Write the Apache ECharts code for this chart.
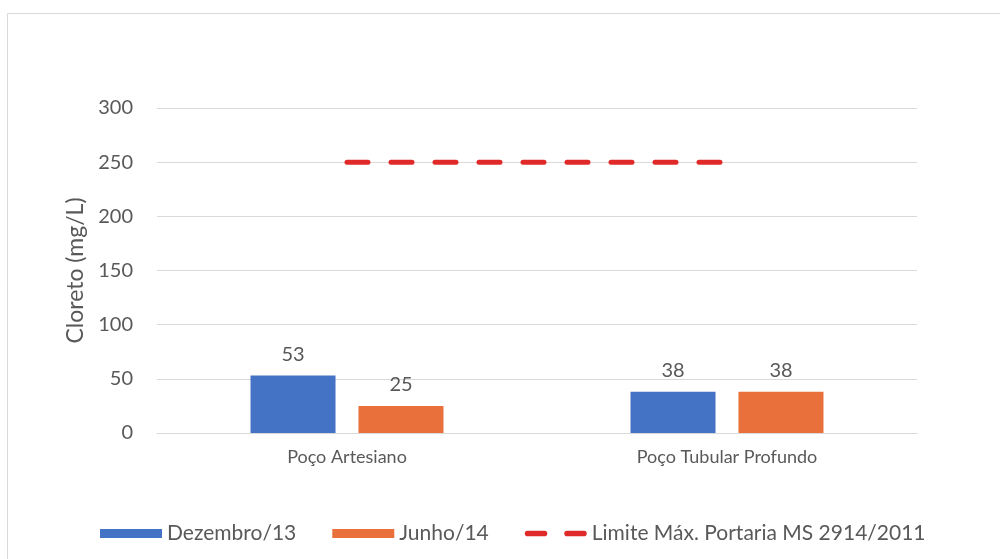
<!DOCTYPE html>
<html>
<head>
<meta charset="utf-8">
<script src="https://cdn.jsdelivr.net/npm/echarts@6/dist/echarts.min.js"></script>
<style>
  html, body { margin: 0; padding: 0; background: #fff; }
  #chart { width: 1000px; height: 559px; }
</style>
</head>
<body>
<div id="chart"></div>
<script>
// dados do gráfico
const categorias = ["Poço Artesiano", "Poço Tubular Profundo"];
const dezembro13 = [53, 38];
const junho14 = [25, 38];
const limiteMax = [250, 250];
const yTicks = { min: 0, max: 300, interval: 50 };

const chart = echarts.init(document.getElementById("chart"));
const fonte = "Lato, 'Open Sans', sans-serif";
const cinza = "#595959";

// ícone da legenda: dois traços (com pontos quase invisíveis para manter a altura)
const iconeTracejado = "path://M0,0h0.01v0.01h-0.01z M0,9h0.01v0.01h-0.01z " +
  "M3,1.5h18a3,3 0 0 1 0,6h-18a3,3 0 0 1 0,-6z M45,1.5h18a3,3 0 0 1 0,6h-18a3,3 0 0 1 0,-6z M66,0h0.01v0.01h-0.01z";

chart.setOption({
  animation: false,
  backgroundColor: "#fff",
  textStyle: { fontFamily: fonte },
  graphic: [{
    type: "rect",
    shape: { x: 7.5, y: 13.5, width: 1000, height: 600 },
    style: { fill: "none", stroke: "#d9d9d9", lineWidth: 1 },
    silent: true
  }],
  grid: { left: 157, right: 83, top: 108, bottom: 126 },
  legend: {
    left: 95,
    top: 518,
    itemWidth: 62,
    itemHeight: 9,
    itemGap: 36,
    textStyle: { color: cinza, fontSize: 21, fontFamily: fonte },
    data: [
      { name: "Dezembro/13", icon: "rect" },
      { name: "Junho/14", icon: "rect" },
      { name: "Limite Máx. Portaria MS 2914/2011", icon: iconeTracejado, itemStyle: { color: "#e02a2a" } }
    ]
  },
  xAxis: {
    type: "category",
    data: categorias,
    axisLine: { lineStyle: { color: "#d9d9d9" } },
    axisTick: { show: false },
    axisLabel: { color: cinza, fontSize: 18, margin: 15, fontFamily: fonte }
  },
  yAxis: {
    type: "value",
    min: yTicks.min,
    max: yTicks.max,
    interval: yTicks.interval,
    name: "Cloreto (mg/L)",
    nameLocation: "middle",
    nameGap: 66,
    nameRotate: 90,
    nameTextStyle: { color: cinza, fontSize: 23, fontFamily: fonte },
    axisLine: { show: false },
    axisTick: { show: false },
    axisLabel: { color: cinza, fontSize: 20, margin: 24, fontFamily: fonte },
    splitLine: { lineStyle: { color: "#d9d9d9", width: 1 } }
  },
  series: [
    {
      name: "Dezembro/13",
      type: "bar",
      data: dezembro13,
      barWidth: 85,
      barGap: "27%",
      itemStyle: { color: "#4472c4" },
      label: { show: true, position: "top", distance: 11, color: cinza, fontSize: 20, fontFamily: fonte }
    },
    {
      name: "Junho/14",
      type: "bar",
      data: junho14,
      barWidth: 85,
      itemStyle: { color: "#e9703a" },
      label: { show: true, position: "top", distance: 11, color: cinza, fontSize: 20, fontFamily: fonte }
    },
    {
      name: "Limite Máx. Portaria MS 2914/2011",
      type: "line",
      data: limiteMax,
      symbol: "none",
      itemStyle: { color: "#e02a2a" },
      lineStyle: { color: "#e02a2a", width: 5, type: [21, 23], cap: "round" },
      z: 5
    }
  ]
});
</script>
</body>
</html>
